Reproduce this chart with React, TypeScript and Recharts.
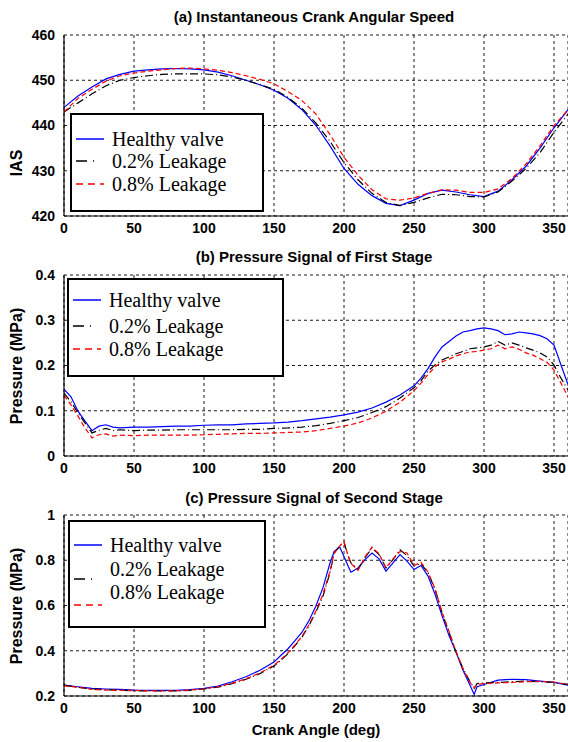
import React from 'react';
import { LineChart, Line, XAxis, YAxis, CartesianGrid, Legend } from 'recharts';

const seriesNames = ['Healthy valve', '0.2% Leakage', '0.8% Leakage'];
const seriesColors = ['#0000ff', '#000000', '#ff0000'];
const seriesDash = [undefined, '8 3 1 3', '5 3'];
const xTicks = [0, 50, 100, 150, 200, 250, 300, 350];

// (a) Instantaneous crank angular speed
const iasAngles = [0, 10, 20, 30, 40, 50, 60, 70, 80, 90, 100, 110, 120, 130, 140, 150, 160, 170, 180,
  190, 200, 210, 220, 230, 240, 250, 260, 270, 280, 290, 300, 310, 320, 330, 340, 350, 360];
const iasHealthy = [444, 446.5, 448.5, 450.3, 451.3, 452, 452.3, 452.5, 452.6, 452.5, 452.3, 451.8, 451, 450,
  449, 447.8, 446, 443.5, 440, 435.5, 430.5, 427, 424.5, 422.8, 422.3, 423.5, 425, 425.7, 425.3, 424.7,
  424.3, 425.5, 428, 431, 435, 439.5, 443.5];
const iasLeak02 = [443, 445, 447, 448.8, 450, 450.6, 451, 451.3, 451.4, 451.4, 451.4, 451.2, 450.7, 450,
  449, 448, 446.2, 443.8, 440.5, 436.5, 431.8, 428, 425, 423, 422.3, 423, 424, 424.8, 424.7, 424.3,
  424.2, 425.3, 427.7, 430.5, 434, 438.5, 442.5];
const iasLeak08 = [443, 446, 448, 449.8, 451, 451.6, 452, 452.3, 452.6, 452.7, 452.5, 452.2, 451.7, 451,
  450.2, 449.2, 447.5, 445.5, 442.5, 438, 433, 429, 425.8, 423.8, 423.5, 424, 425, 425.8, 425.7, 425.2,
  425.2, 426, 428.3, 431.5, 435.5, 440, 443.5];
const iasTicks = [420, 430, 440, 450, 460];

// (b) Pressure of first stage
const p1Angles = [0, 5, 10, 15, 20, 25, 30, 35, 40, 50, 60, 70, 80, 90, 100, 110, 120, 130, 140, 150, 160,
  170, 180, 190, 200, 210, 220, 230, 240, 250, 255, 260, 265, 270, 275, 280, 285, 290, 295, 300, 305,
  310, 315, 320, 325, 330, 335, 340, 345, 350, 355, 360];
const p1Healthy = [0.148, 0.131, 0.099, 0.077, 0.056, 0.066, 0.069, 0.064, 0.062, 0.064, 0.064, 0.065,
  0.066, 0.066, 0.068, 0.069, 0.069, 0.071, 0.072, 0.073, 0.075, 0.078, 0.082, 0.086, 0.091, 0.097,
  0.106, 0.119, 0.135, 0.155, 0.172, 0.193, 0.219, 0.241, 0.253, 0.265, 0.274, 0.277, 0.281, 0.283,
  0.281, 0.277, 0.268, 0.27, 0.274, 0.272, 0.27, 0.266, 0.259, 0.245, 0.201, 0.158];
const p1Leak02 = [0.139, 0.12, 0.095, 0.073, 0.051, 0.057, 0.061, 0.056, 0.058, 0.056, 0.057, 0.057,
  0.058, 0.058, 0.058, 0.058, 0.058, 0.059, 0.059, 0.061, 0.062, 0.064, 0.067, 0.072, 0.078, 0.085,
  0.096, 0.109, 0.128, 0.151, 0.166, 0.188, 0.201, 0.212, 0.219, 0.226, 0.231, 0.237, 0.239, 0.241,
  0.245, 0.253, 0.245, 0.25, 0.245, 0.239, 0.234, 0.228, 0.219, 0.201, 0.172, 0.146];
const p1Leak08 = [0.134, 0.113, 0.088, 0.062, 0.04, 0.047, 0.049, 0.044, 0.046, 0.045, 0.046, 0.046,
  0.046, 0.046, 0.047, 0.048, 0.049, 0.05, 0.05, 0.051, 0.052, 0.053, 0.056, 0.061, 0.066, 0.073,
  0.084, 0.099, 0.119, 0.144, 0.161, 0.18, 0.197, 0.208, 0.214, 0.221, 0.226, 0.23, 0.231, 0.234,
  0.237, 0.245, 0.237, 0.241, 0.236, 0.228, 0.223, 0.215, 0.207, 0.19, 0.161, 0.131];
const p1Ticks = [0, 0.1, 0.2, 0.3, 0.4];

// (c) Pressure of second stage
const p2Angles = [0, 10, 20, 30, 40, 50, 60, 70, 80, 90, 100, 110, 120, 130, 140, 150, 155, 160, 165, 170,
  175, 180, 185, 190, 193, 197, 200, 203, 205, 210, 215, 220, 225, 230, 235, 240, 245, 250, 255, 260,
  265, 270, 275, 280, 285, 290, 293, 295, 300, 310, 320, 330, 340, 350, 360];
const p2Healthy = [0.248, 0.241, 0.234, 0.231, 0.229, 0.226, 0.225, 0.225, 0.225, 0.228, 0.234, 0.244,
  0.263, 0.285, 0.314, 0.35, 0.38, 0.409, 0.445, 0.482, 0.533, 0.599, 0.679, 0.788, 0.839, 0.858, 0.817,
  0.774, 0.747, 0.766, 0.803, 0.832, 0.806, 0.752, 0.788, 0.825, 0.796, 0.759, 0.777, 0.73, 0.65, 0.555,
  0.467, 0.394, 0.314, 0.248, 0.207, 0.241, 0.251, 0.27, 0.274, 0.272, 0.266, 0.26, 0.248];
const p2Leak02 = [0.248, 0.238, 0.231, 0.228, 0.225, 0.223, 0.222, 0.222, 0.223, 0.225, 0.231, 0.239,
  0.255, 0.274, 0.299, 0.333, 0.358, 0.387, 0.423, 0.46, 0.511, 0.572, 0.642, 0.745, 0.832, 0.864, 0.879,
  0.817, 0.788, 0.759, 0.811, 0.854, 0.825, 0.766, 0.803, 0.847, 0.82, 0.774, 0.785, 0.745, 0.672, 0.569,
  0.482, 0.394, 0.321, 0.263, 0.234, 0.255, 0.258, 0.26, 0.263, 0.266, 0.263, 0.26, 0.251];
const p2Leak08 = [0.245, 0.239, 0.229, 0.226, 0.225, 0.225, 0.223, 0.222, 0.223, 0.226, 0.232, 0.241,
  0.257, 0.276, 0.302, 0.336, 0.362, 0.391, 0.426, 0.464, 0.515, 0.577, 0.65, 0.752, 0.832, 0.864, 0.883,
  0.82, 0.785, 0.756, 0.815, 0.858, 0.829, 0.766, 0.806, 0.839, 0.832, 0.777, 0.791, 0.748, 0.674, 0.572,
  0.485, 0.397, 0.321, 0.26, 0.236, 0.252, 0.255, 0.258, 0.26, 0.263, 0.265, 0.261, 0.251];
const p2Ticks = [0.2, 0.4, 0.6, 0.8, 1];

const toRows = (angles: number[], h: number[], b: number[], r: number[]) =>
  angles.map((angle, i) => ({ angle, healthy: h[i], leak02: b[i], leak08: r[i] }));

const keys = ['healthy', 'leak02', 'leak08'];

const sans = '"Liberation Sans", Arial, sans-serif';
const tickStyle = { fontFamily: sans, fontWeight: 'bold' as const, fontSize: 14, fill: '#000' };

type LegendBox = { x: number; y: number; w: number; h: number; rows: number[]; lineOffsets: number[] };

// legend drawn in series order (recharts would sort it by name otherwise)
const makeLegend = (box: LegendBox) => () => (
  <div style={{ position: 'relative', width: box.w, height: box.h, border: '2px solid #000',
    boxSizing: 'border-box', background: '#fff', fontFamily: '"Liberation Serif", "Times New Roman", serif', fontSize: 20 }}>
    {seriesNames.map((name, i) => (
      <React.Fragment key={name}>
        <svg width={30} height={6} style={{ position: 'absolute', left: 4, top: box.rows[i] + box.lineOffsets[i] - 3 }}>
          <line x1={0} y1={3} x2={28} y2={3} stroke={seriesColors[i]} strokeWidth={1.5}
            strokeDasharray={i === 1 ? '11 6 1 20' : i === 2 ? '7 5' : undefined} />
        </svg>
        <div style={{ position: 'absolute', left: 40, top: box.rows[i] - 12, lineHeight: '24px', whiteSpace: 'nowrap', color: '#000' }}>
          {name}
        </div>
      </React.Fragment>
    ))}
  </div>
);

type PanelProps = {
  top: number;
  height: number;
  rows: any[];
  domain: [number, number];
  ticks: number[];
  title: string;
  titleY: number;
  yLabel: string;
  yLabelY: number;
  legend: LegendBox;
  xLabel?: string;
};

const Panel = ({ top, height, rows, domain, ticks, title, titleY, yLabel, yLabelY, legend, xLabel }: PanelProps) => (
  <div style={{ position: 'absolute', left: 0, top, width: 568, height }}>
    <div style={{ position: 'absolute', left: 314, top: titleY, transform: 'translate(-50%, -50%)',
      fontFamily: sans, fontWeight: 'bold', fontSize: 15, whiteSpace: 'nowrap', zIndex: 2 }}>{title}</div>
    <div style={{ position: 'absolute', left: 17, top: yLabelY, transform: 'translate(-50%, -50%) rotate(-90deg)',
      fontFamily: sans, fontWeight: 'bold', fontSize: 16, whiteSpace: 'nowrap', zIndex: 2 }}>{yLabel}</div>
    <LineChart width={568} height={height} data={rows} margin={{ top: 35, right: 0, left: 0, bottom: 0 }}>
      <CartesianGrid stroke="#000" strokeDasharray="3 3" strokeWidth={0.9} />
      <XAxis dataKey="angle" type="number" domain={[0, 360]} ticks={xTicks} allowDataOverflow
        height={xLabel ? 46 : 24} tick={tickStyle} tickLine={false} tickSize={5} tickMargin={2}
        axisLine={{ stroke: '#000', strokeWidth: 1.2 }}
        label={xLabel ? { value: xLabel, position: 'insideBottom', offset: 7,
          style: { fontFamily: sans, fontWeight: 'bold', fontSize: 15, fill: '#000' } } : undefined} />
      <XAxis xAxisId="top" orientation="top" dataKey="angle" type="number" domain={[0, 360]} height={0}
        tick={false} tickLine={false} axisLine={{ stroke: '#000', strokeWidth: 1.2 }} />
      <YAxis type="number" domain={domain} ticks={ticks} allowDataOverflow width={64} tick={tickStyle}
        tickLine={false} tickSize={6} tickMargin={3} axisLine={{ stroke: '#000', strokeWidth: 1.2 }} />
      {keys.map((k, i) => (
        <Line key={k} dataKey={k} name={seriesNames[i]} type="linear" stroke={seriesColors[i]}
          strokeDasharray={seriesDash[i]} strokeWidth={1.2} dot={false} isAnimationActive={false} />
      ))}
      <Legend layout="vertical" align="center" verticalAlign="middle" content={makeLegend(legend)}
        wrapperStyle={{ left: legend.x, top: legend.y, width: legend.w, height: legend.h }} />
    </LineChart>
  </div>
);

export default function App() {
  return (
    <div style={{ position: 'absolute', left: 0, top: 0, width: 568, height: 742, background: '#fff' }}>
      <Panel top={0} height={240} rows={toRows(iasAngles, iasHealthy, iasLeak02, iasLeak08)}
        domain={[420, 460]} ticks={iasTicks} title="(a) Instantaneous Crank Angular Speed" titleY={16}
        yLabel="IAS" yLabelY={163}
        legend={{ x: 70, y: 113, w: 194, h: 99, rows: [24, 46, 69], lineOffsets: [0, 0, 0] }} />
      <Panel top={240} height={240} rows={toRows(p1Angles, p1Healthy, p1Leak02, p1Leak08)}
        domain={[0, 0.4]} ticks={p1Ticks} title="(b) Pressure Signal of First Stage" titleY={16}
        yLabel="Pressure (MPa)" yLabelY={126}
        legend={{ x: 67, y: 38, w: 217, h: 99, rows: [20, 46, 69], lineOffsets: [0, 0, 0] }} />
      <Panel top={480} height={262} rows={toRows(p2Angles, p2Healthy, p2Leak02, p2Leak08)}
        domain={[0.2, 1]} ticks={p2Ticks} title="(c) Pressure Signal of Second Stage" titleY={17}
        yLabel="Pressure (MPa)" yLabelY={126} xLabel="Crank Angle (deg)"
        legend={{ x: 68, y: 40, w: 198, h: 108, rows: [23, 47, 70], lineOffsets: [0, 10, 13] }} />
    </div>
  );
}
